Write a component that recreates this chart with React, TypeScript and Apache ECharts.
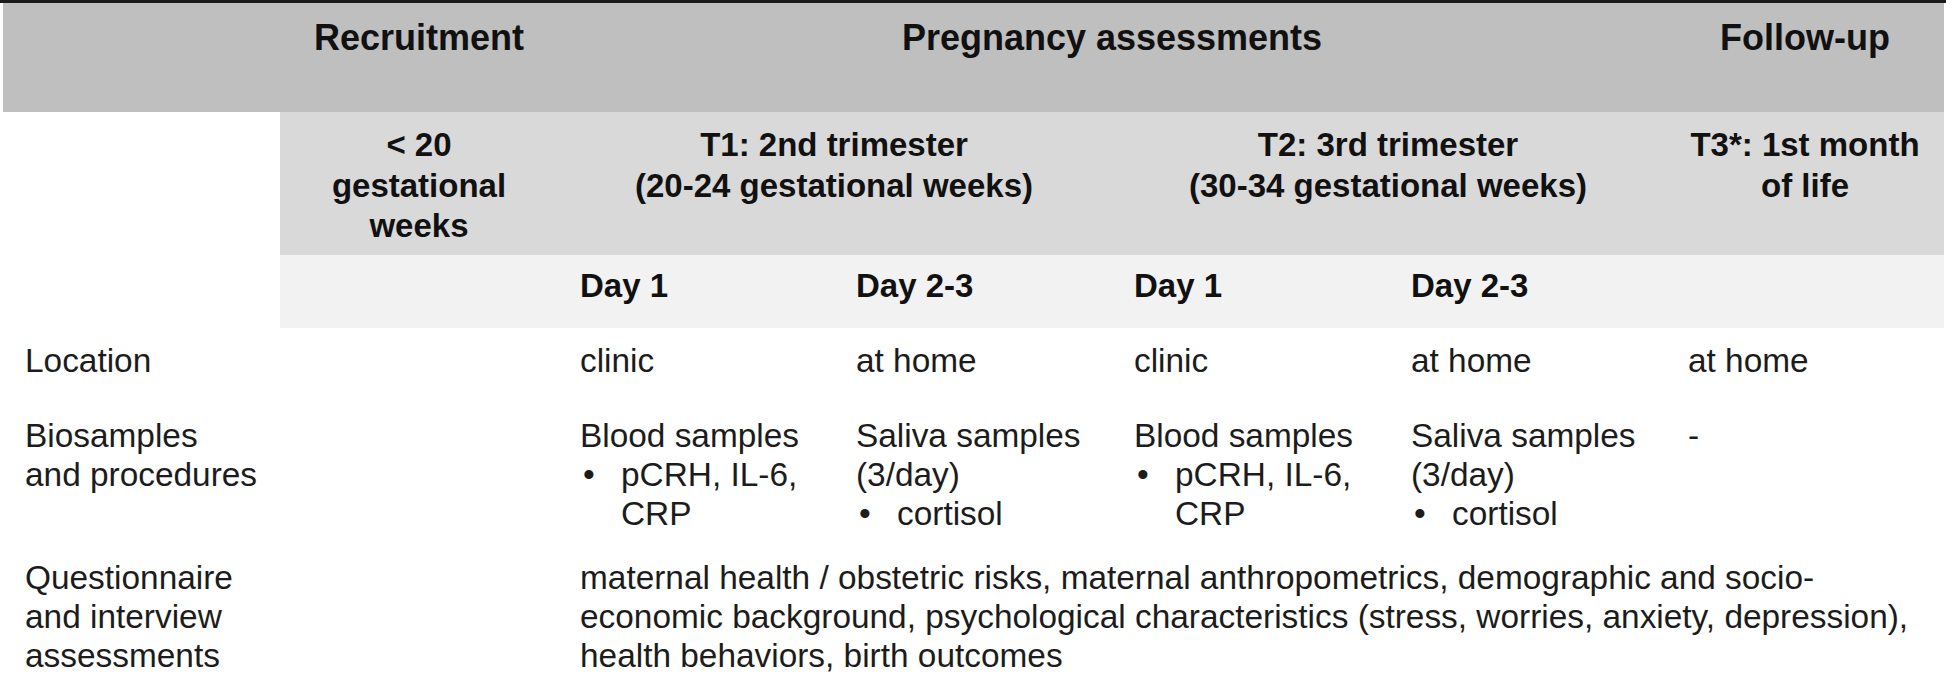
import React, { useEffect, useRef } from "react";
import * as echarts from "echarts";

// ---- table content ----
const phaseHeaders = ["Recruitment", "Pregnancy assessments", "Follow-up"];
const timepointLines = [
  ["< 20", "gestational", "weeks"],
  ["T1: 2nd trimester", "(20-24 gestational weeks)"],
  ["T2: 3rd trimester", "(30-34 gestational weeks)"],
  ["T3*: 1st month", "of life"],
];
const dayLabels = ["Day 1", "Day 2-3", "Day 1", "Day 2-3"];
const rowLabels = [
  ["Location"],
  ["Biosamples", "and procedures"],
  ["Questionnaire", "and interview", "assessments"],
];
const locations = ["clinic", "at home", "clinic", "at home", "at home"];
const biosampleTitles = [
  ["Blood samples"],
  ["Saliva samples", "(3/day)"],
  ["Blood samples"],
  ["Saliva samples", "(3/day)"],
  ["-"],
];
const biosampleBullets = [
  ["pCRH, IL-6,", "CRP"],
  ["cortisol"],
  ["pCRH, IL-6,", "CRP"],
  ["cortisol"],
  [],
];
const questionnaireLines = [
  "maternal health / obstetric risks, maternal anthropometrics, demographic and socio-",
  "economic background, psychological characteristics (stress, worries, anxiety, depression),",
  "health behaviors, birth outcomes",
];

// ---- layout & style ----
const W = 1946;
const H = 680;
const FONT = "'Liberation Sans', Arial, Helvetica, sans-serif";
const C_HEAD = "#bfbfbf";
const C_TP = "#d9d9d9";
const C_DAY = "#f2f2f2";
const C_BOLD = "#111111";
const C_TEXT = "#1c1c1c";
const BODY_SIZE = 33.4;

const phaseX = [419, 1112, 1805];
const phaseY = 37.5;
const tpX = [419, 834, 1388, 1805];
const tpY0 = 144.5;
const tpStep = 40.5;
const colX = [580, 856, 1134, 1411, 1688];
const dayY = 285;
const labelX = 25;
const locY = 360.5;
const bioY0 = 435;
const questY0 = 577.5;
const lineStep = 39;
const bulletDX = 3;
const indentDX = 41;

function txt(text: string, x: number, y: number, opts: any = {}) {
  return {
    type: "text",
    x,
    y,
    silent: true,
    style: {
      text,
      fill: opts.bold ? C_BOLD : C_TEXT,
      fontSize: opts.size ?? BODY_SIZE,
      fontWeight: opts.bold ? "bold" : "normal",
      fontFamily: FONT,
      align: opts.align ?? "left",
      verticalAlign: "middle",
    },
  };
}

function buildElements() {
  const els: any[] = [];
  // bands
  els.push({ type: "rect", shape: { x: 0, y: 0, width: W, height: 3 }, style: { fill: "#1a1a1a" }, silent: true });
  els.push({ type: "rect", shape: { x: 3, y: 3, width: 1941, height: 109 }, style: { fill: C_HEAD }, silent: true });
  els.push({ type: "rect", shape: { x: 280, y: 112, width: 1664, height: 143 }, style: { fill: C_TP }, silent: true });
  els.push({ type: "rect", shape: { x: 280, y: 255, width: 1664, height: 73 }, style: { fill: C_DAY }, silent: true });

  phaseHeaders.forEach((t, i) => els.push(txt(t, phaseX[i], phaseY, { bold: true, size: 36, align: "center" })));
  timepointLines.forEach((lines, i) =>
    lines.forEach((t, j) => els.push(txt(t, tpX[i], tpY0 + j * tpStep, { bold: true, size: 33, align: "center" })))
  );
  dayLabels.forEach((t, i) => els.push(txt(t, colX[i], dayY, { bold: true, size: 33 })));

  const rowY = [locY, bioY0, questY0];
  rowLabels.forEach((lines, i) =>
    lines.forEach((t, j) => els.push(txt(t, labelX, rowY[i] + j * lineStep)))
  );
  locations.forEach((t, i) => els.push(txt(t, colX[i], locY)));
  biosampleTitles.forEach((lines, i) => {
    lines.forEach((t, j) => els.push(txt(t, colX[i], bioY0 + j * lineStep)));
    const start = lines.length;
    biosampleBullets[i].forEach((t, j) => {
      const y = bioY0 + (start + j) * lineStep;
      if (j === 0) els.push(txt("•", colX[i] + bulletDX, y));
      els.push(txt(t, colX[i] + indentDX, y));
    });
  });
  questionnaireLines.forEach((t, j) => els.push(txt(t, colX[0], questY0 + j * lineStep)));
  return els;
}

export default function App() {
  const ref = useRef<HTMLDivElement>(null);
  useEffect(() => {
    if (!ref.current) return;
    const chart = echarts.init(ref.current, undefined, { renderer: "svg" });
    chart.setOption({
      animation: false,
      backgroundColor: "#ffffff",
      graphic: { elements: buildElements() },
    });
    return () => chart.dispose();
  }, []);
  return (
    <div
      ref={ref}
      style={{ position: "absolute", left: 0, top: 0, width: W, height: H, background: "#fff" }}
    />
  );
}
